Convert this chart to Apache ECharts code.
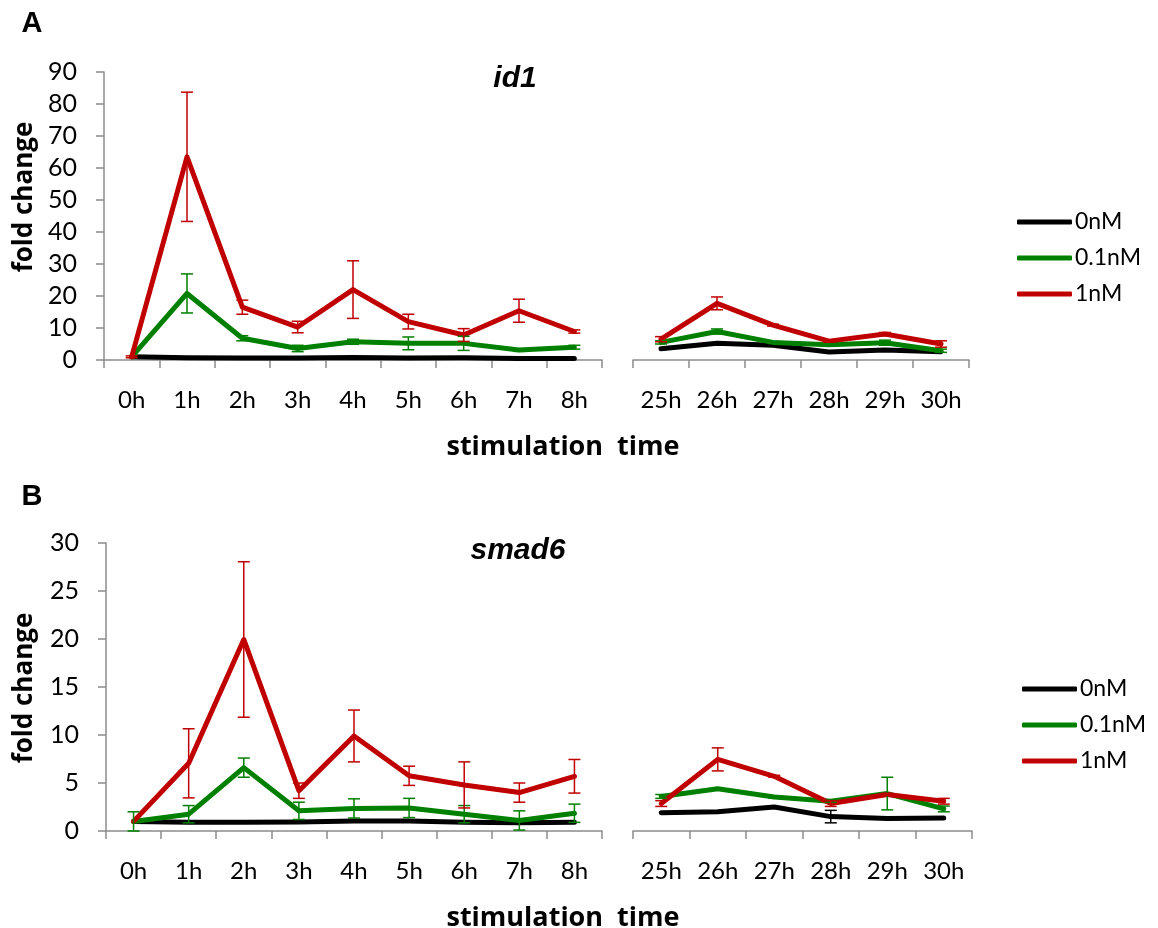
<!DOCTYPE html>
<html>
<head>
<meta charset="utf-8">
<script src="https://cdn.jsdelivr.net/npm/echarts@6/dist/echarts.min.js"></script>
<style>html,body{margin:0;padding:0;background:#fff}#c{width:1158px;height:928px}</style>
</head>
<body>
<div id="c"></div>
<script>
// ---- categories ----
const catsEarly = ['0h','1h','2h','3h','4h','5h','6h','7h','8h'];
const catsLate = ['25h','26h','27h','28h','29h','30h'];
const seriesNames = ['0nM','0.1nM','1nM'];
const yTicksA = [0, 10, 20, 30, 40, 50, 60, 70, 80, 90];
const yTicksB = [0, 5, 10, 15, 20, 25, 30];

// ---- panel A: id1 ----
const A_0nM_early  = [1, 0.7, 0.6, 0.6, 0.8, 0.6, 0.7, 0.5, 0.5];
const A_01nM_early = [1, 20.8, 6.8, 3.6, 5.7, 5.2, 5.2, 3.1, 4.0];
const A_1nM_early  = [1, 63.5, 16.5, 10.3, 22.0, 12.0, 7.8, 15.4, 8.9];
const A_0nM_early_err  = [0, 0, 0, 0, 0, 0, 0, 0, 0];
const A_01nM_early_err = [0, 6.1, 0.8, 1.0, 0.8, 2.0, 2.2, 0.4, 0.6];
const A_1nM_early_err  = [0.3, 20.2, 2.2, 1.8, 9.0, 2.3, 2.0, 3.6, 0.5];
const A_0nM_late  = [3.5, 5.2, 4.6, 2.5, 3.1, 2.6];
const A_01nM_late = [5.5, 8.9, 5.5, 4.8, 5.4, 2.9];
const A_1nM_late  = [6.5, 17.7, 10.9, 5.9, 8.1, 5.0];
const A_0nM_late_err  = [0, 0, 0, 0, 0, 0];
const A_01nM_late_err = [0.5, 0.8, 0.3, 0.3, 0.8, 0.5];
const A_1nM_late_err  = [0.8, 2.0, 0.3, 0.3, 0.5, 1.0];

// ---- panel B: smad6 ----
const B_0nM_early  = [1, 0.9, 0.9, 0.95, 1.05, 1.05, 0.9, 0.85, 0.9];
const B_01nM_early = [1, 1.75, 6.6, 2.1, 2.35, 2.4, 1.75, 1.1, 1.85];
const B_1nM_early  = [1, 7.05, 19.95, 4.2, 9.9, 5.75, 4.8, 4.0, 5.7];
const B_0nM_early_err  = [0, 0.1, 0, 0, 0.1, 0.1, 0, 0, 0];
const B_01nM_early_err = [1.0, 0.9, 1.0, 0.9, 1.0, 1.0, 0.9, 1.0, 0.95];
const B_1nM_early_err  = [0, 3.6, 8.1, 0.8, 2.7, 1.0, 2.4, 1.0, 1.75];
const B_0nM_late  = [1.9, 2.0, 2.5, 1.5, 1.3, 1.35];
const B_01nM_late = [3.6, 4.4, 3.55, 3.1, 3.9, 2.3];
const B_1nM_late  = [2.86, 7.46, 5.7, 2.86, 3.8, 3.1];
const B_0nM_late_err  = [0, 0, 0, 0.65, 0, 0];
const B_01nM_late_err = [0.2, 0.1, 0.1, 0.1, 1.7, 0.3];
const B_1nM_late_err  = [0.3, 1.2, 0.1, 0.3, 0.1, 0.3];

const colors = ['#000000', '#008000', '#c00000'];
const FONT = 'Lato';
const AXIS_COLOR = '#8c8c8c';

const chart = echarts.init(document.getElementById('c'), null, {renderer: 'canvas'});

const grids = [
  {left: 104, top: 72, width: 498, height: 288},
  {left: 633, top: 72, width: 336, height: 288},
  {left: 106, top: 543, width: 496, height: 288},
  {left: 633, top: 543, width: 339, height: 288}
];

function xAx(idx, cats) {
  return {
    type: 'category', gridIndex: idx, data: cats, boundaryGap: true,
    axisLine: {show: true, lineStyle: {color: AXIS_COLOR, width: 1.5}},
    axisTick: {show: true, length: 8, inside: false, alignWithLabel: false, lineStyle: {color: AXIS_COLOR, width: 1.5}},
    axisLabel: {color: '#000', fontFamily: FONT, fontSize: 24, margin: 28, interval: 0},
    splitLine: {show: false}
  };
}
function yAx(idx, ticks, show) {
  const mn = ticks[0], mx = ticks[ticks.length - 1], iv = ticks[1] - ticks[0];
  return {
    type: 'value', gridIndex: idx, min: mn, max: mx, interval: iv, show: show,
    axisLine: {show: true, lineStyle: {color: AXIS_COLOR, width: 1.5}},
    axisTick: {show: true, length: 8, inside: false, lineStyle: {color: AXIS_COLOR, width: 1.5}},
    axisLabel: {color: '#000', fontFamily: FONT, fontSize: 25, margin: 27},
    splitLine: {show: false}
  };
}

const series = [];
function addLine(name, data, axisIdx, color) {
  series.push({
    name: name, type: 'line', xAxisIndex: axisIdx, yAxisIndex: axisIdx,
    data: data, symbol: 'none', color: color,
    lineStyle: {width: 5, color: color, join: 'round', cap: 'round'},
    z: 3, animation: false
  });
}
function addErr(data, err, axisIdx, color) {
  const d = data.map((v, i) => [i, v - err[i], v + err[i]]);
  series.push({
    name: 'err', type: 'custom', xAxisIndex: axisIdx, yAxisIndex: axisIdx,
    data: d, z: 4, animation: false, silent: true,
    renderItem: function (params, api) {
      const x = api.value(0), lo = api.value(1), hi = api.value(2);
      if (hi - lo <= 0) return null;
      const pt = api.coord([x, hi]);
      const pb = api.coord([x, lo]);
      const w = 6;
      const st = {stroke: color, lineWidth: 1.5};
      return {type: 'group', children: [
        {type: 'line', shape: {x1: pt[0], y1: pt[1], x2: pb[0], y2: pb[1]}, style: st},
        {type: 'line', shape: {x1: pt[0] - w, y1: pt[1], x2: pt[0] + w, y2: pt[1]}, style: st},
        {type: 'line', shape: {x1: pb[0] - w, y1: pb[1], x2: pb[0] + w, y2: pb[1]}, style: st}
      ]};
    }
  });
}

const panels = [
  [0, [A_0nM_early, A_01nM_early, A_1nM_early], [A_0nM_early_err, A_01nM_early_err, A_1nM_early_err]],
  [1, [A_0nM_late, A_01nM_late, A_1nM_late], [A_0nM_late_err, A_01nM_late_err, A_1nM_late_err]],
  [2, [B_0nM_early, B_01nM_early, B_1nM_early], [B_0nM_early_err, B_01nM_early_err, B_1nM_early_err]],
  [3, [B_0nM_late, B_01nM_late, B_1nM_late], [B_0nM_late_err, B_01nM_late_err, B_1nM_late_err]]
];
panels.forEach(p => {
  for (let k = 0; k < 3; k++) addLine(seriesNames[k], p[1][k], p[0], colors[k]);
  for (let k = 0; k < 3; k++) addErr(p[1][k], p[2][k], p[0], colors[k]);
});

function legend(left, top) {
  return {
    data: seriesNames, orient: 'vertical', left: left, top: top,
    icon: 'roundRect', itemWidth: 55, itemHeight: 5, itemGap: 12,
    textStyle: {color: '#000', fontFamily: FONT, fontSize: 23, lineHeight: 24, padding: [0, 0, 0, -2]},
    selectedMode: false
  };
}

function txt(str, x, y, font, rot) {
  return {
    type: 'text', x: x, y: y, rotation: rot || 0,
    style: {text: str, font: font, fill: '#000', align: 'center', verticalAlign: 'middle'}
  };
}

chart.setOption({
  animation: false,
  grid: grids,
  xAxis: [xAx(0, catsEarly), xAx(1, catsLate), xAx(2, catsEarly), xAx(3, catsLate)],
  yAxis: [yAx(0, yTicksA, true), yAx(1, yTicksA, false), yAx(2, yTicksB, true), yAx(3, yTicksB, false)],
  legend: [legend(1012, 205), legend(1017, 672)],
  series: series,
  graphic: [
    txt('A', 32, 24, 'bold 29px "Liberation Sans"'),
    txt('B', 32, 497, 'bold 29px "Liberation Sans"'),
    txt('id1', 515, 79, 'italic bold 30px "Liberation Sans"'),
    txt('smad6', 518, 551, 'italic bold 30px "Liberation Sans"'),
    txt('fold change', 25, 197, 'bold 26px "Open Sans"', Math.PI / 2),
    txt('fold change', 25, 688, 'bold 26px "Open Sans"', Math.PI / 2),
    txt('stimulation  time', 563, 447, 'bold 27px "Open Sans"'),
    txt('stimulation  time', 563, 918, 'bold 27px "Open Sans"')
  ]
});
</script>
</body>
</html>
